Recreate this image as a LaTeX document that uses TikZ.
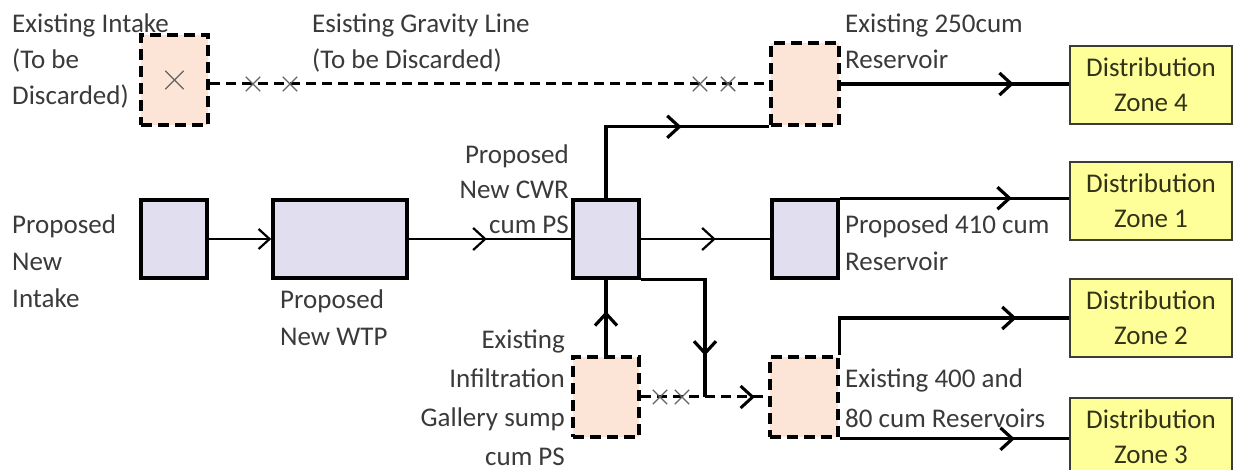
\documentclass[tikz,border=0pt]{standalone}
\usepackage{fontspec}
\setmainfont{Carlito}
\usetikzlibrary{arrows.meta,decorations.markings,shapes.misc}
\definecolor{lav}{RGB}{225,222,240}
\definecolor{peach}{RGB}{252,228,214}
\definecolor{zyel}{RGB}{255,255,153}
\definecolor{txt}{RGB}{58,58,58}
\definecolor{ztxt}{RGB}{50,50,25}
\definecolor{zbord}{RGB}{60,60,50}
\definecolor{xgray}{RGB}{100,100,100}
\newcommand{\fst}{\rule{0pt}{19pt}}
\begin{document}
\begin{tikzpicture}[x=1pt,y=-1pt,
  newbox/.style={draw=black,line width=3.6pt,fill=lav,inner sep=0pt},
  oldbox/.style={draw=black,line width=3.6pt,dash pattern=on 11pt off 6pt,fill=peach,inner sep=0pt},
  zonebox/.style={draw=zbord,line width=2.4pt,fill=zyel,minimum width=162pt,minimum height=78pt,align=center,font=\fontsize{27}{35}\selectfont,text=ztxt,inner sep=0pt},
  lbl/.style={font=\fontsize{27}{37}\selectfont,text=txt,inner sep=0pt,align=left,anchor=north west},
  lblr/.style={lbl,align=right,anchor=north east},
  thickln/.style={line width=3.2pt},
  thinln/.style={line width=2.2pt},
  dashln/.style={line width=3pt,dash pattern=on 10pt off 6pt},
  marr/.style={postaction={decorate},decoration={markings,mark=at position #1 with {\pgfsetdash{}{0pt}\arrow{Straight Barb[length=12pt,width=22pt]}}}},
  xmark/.style={cross out,draw=xgray,line width=1.4pt,minimum size=13pt,inner sep=0pt}
]
\useasboundingbox (0,0) rectangle (1235,470);

% boxes
\node[newbox,minimum width=66pt,minimum height=78pt] (intake) at (174,239) {};
\node[newbox,minimum width=134pt,minimum height=78pt] (wtp) at (340,239) {};
\node[newbox,minimum width=66pt,minimum height=78pt] (cwr) at (606,239) {};
\node[newbox,minimum width=66pt,minimum height=78pt] (r410) at (805,239) {};
\node[oldbox,minimum width=67pt,minimum height=90pt] (ei) at (174.5,80) {};
\node[oldbox,minimum width=68pt,minimum height=82pt] (r250) at (805,84) {};
\node[oldbox,minimum width=66pt,minimum height=80pt] (inf) at (606,397) {};
\node[oldbox,minimum width=68pt,minimum height=80pt] (r400) at (804,397) {};
\node[xmark,minimum size=17pt] (eix) at (ei.center) {};

% zones
\node[zonebox] (z4) at (1151,85) {Distribution\\Zone 4};
\node[zonebox] (z1) at (1151,201) {Distribution\\Zone 1};
\node[zonebox] (z2) at (1151,318) {Distribution\\Zone 2};
\node[zonebox] (z3) at (1151,437) {Distribution\\Zone 3};

% connectors
\draw[thinln,-{Straight Barb[length=11pt,width=20pt]}] (intake) -- (wtp);
\draw[thinln,marr=78pt] (wtp) -- (cwr);
\draw[thinln,marr=75pt] (cwr) -- (r410);
\draw[thickln,marr=147pt] (cwr.north) |- (r250.south west);
\draw[thickln,marr=173pt] (r250.east) -- (r250.east -| z4.west);
\draw[thickln,marr=172pt] (r410.north east) -- (r410.north east -| z1.west);
\draw[thickln,marr=44pt] (inf.north) -- (cwr.south);
\coordinate (j) at (705,397);
\draw[thickln,marr=140pt] (cwr.south east) -| (j);
\draw[dashln,marr=114pt] (inf.east) -- (r400.west);
\draw[thickln,marr=214pt] (r400.north east) |- (z2.west);
\draw[thickln,marr=175pt] (r400.south east) -- (r400.south east -| z3.west);
\draw[dashln] (ei.east |- r250.west) -- (r250.west);

% crosses
\node[xmark] (x1) at (253,84) {};
\node[xmark] (x2) at (290,84) {};
\node[xmark] (x3) at (700,84) {};
\node[xmark] (x4) at (728,84) {};
\node[xmark] (x5) at (660,397) {};
\node[xmark] (x6) at (682,397) {};

% labels
\node[lbl,font=\fontsize{27}{36}\selectfont] (lei) at (12,13) {\fst Existing Intake\\(To be\\Discarded)};
\node[lbl,font=\fontsize{27}{36}\selectfont] (lgl) at (312,13) {\fst Esisting Gravity Line\\(To be Discarded)};
\node[lbl,font=\fontsize{27}{36}\selectfont] (l250) at (845,13) {\fst Existing 250cum\\Reservoir};
\node[lbl] (lin) at (12,214) {\fst Proposed\\New\\Intake};
\node[lblr,font=\fontsize{27}{35}\selectfont] (lcwr) at (569,144) {\fst Proposed\\New CWR\\cum PS};
\node[lbl] (lwtp) at (280,289) {\fst Proposed\\New WTP};
\node[lbl] (l410) at (845,214) {\fst Proposed 410 cum\\Reservoir};
\node[lblr,font=\fontsize{27}{39}\selectfont] (linf) at (565,329) {\fst Existing\\Infiltration\\Gallery sump\\cum PS};
\node[lbl,font=\fontsize{27}{40}\selectfont] (l400) at (845,368) {\fst Existing 400 and\\80 cum Reservoirs};
\end{tikzpicture}
\end{document}
